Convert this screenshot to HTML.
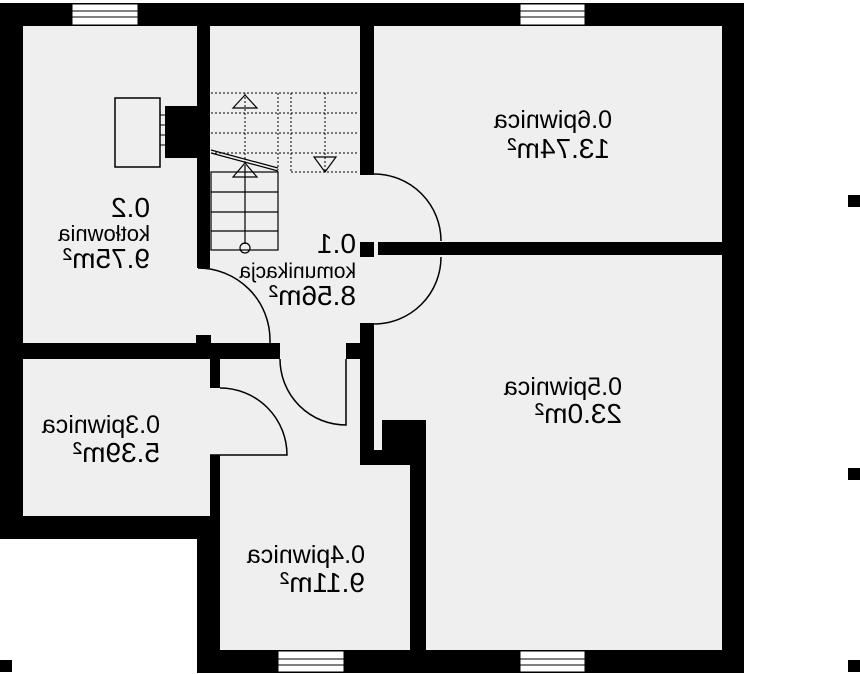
<!DOCTYPE html>
<html><head><meta charset="utf-8"><style>
html,body{margin:0;padding:0;background:#fff;}
svg{display:block;}
text{font-family:"Liberation Sans",sans-serif;fill:#000;}
</style></head><body>
<svg width="860" height="674" viewBox="0 0 860 674" xmlns="http://www.w3.org/2000/svg">
<polygon points="0,3 744,3 744,673 197,673 197,539 0,539" fill="#efefef"/>
<g fill="#000">
<rect x="0" y="3" width="744" height="23"/>
<rect x="0" y="3" width="23" height="536"/>
<rect x="722" y="3" width="22" height="670"/>
<rect x="197" y="650" width="547" height="23"/>
<rect x="0" y="516" width="210" height="23"/>
<rect x="197" y="516" width="23" height="157"/>
<rect x="210" y="455" width="10" height="61"/>
<rect x="0" y="343" width="280" height="16"/>
<rect x="196" y="335" width="15" height="24"/>
<rect x="210" y="343" width="10" height="45"/>
<rect x="197" y="26" width="13" height="242"/>
<rect x="360" y="26" width="14" height="149"/>
<rect x="360" y="242" width="14" height="15"/>
<rect x="360" y="323" width="14" height="142"/>
<rect x="378" y="242" width="344" height="13"/>
<rect x="346" y="343" width="14" height="16"/>
<rect x="360" y="450" width="50" height="15"/>
<rect x="382" y="420" width="44" height="45"/>
<rect x="410" y="420" width="16" height="230"/>
<rect x="165" y="106" width="32" height="52"/>
<rect x="848" y="195" width="12" height="12"/>
<rect x="848" y="468" width="12" height="12"/>
<rect x="848" y="660" width="12" height="12"/>
<rect x="0" y="660" width="12" height="12"/>
</g>
<g fill="#fff" stroke="#000" stroke-width="1">
<rect x="72" y="4" width="66" height="21"/>
<rect x="520" y="4" width="65" height="21"/>
<rect x="278" y="651" width="66" height="21"/>
<rect x="520" y="651" width="65" height="21"/>
</g>
<g stroke="#000" stroke-width="1">
<line x1="72" y1="11" x2="138" y2="11"/><line x1="72" y1="17" x2="138" y2="17"/>
<line x1="520" y1="11" x2="585" y2="11"/><line x1="520" y1="17" x2="585" y2="17"/>
<line x1="278" y1="659" x2="344" y2="659"/><line x1="278" y1="665" x2="344" y2="665"/>
<line x1="520" y1="659" x2="585" y2="659"/><line x1="520" y1="665" x2="585" y2="665"/>
</g>
<rect x="115" y="98" width="45" height="69" fill="none" stroke="#000" stroke-width="1.5"/>
<g stroke="#000" stroke-width="1"><line x1="160" y1="115" x2="165" y2="115"/><line x1="160" y1="125" x2="165" y2="125"/><line x1="160" y1="135" x2="165" y2="135"/><line x1="160" y1="145" x2="165" y2="145"/></g>
<g fill="none" stroke="#000" stroke-width="1.5">
<path d="M198,268 A72,72 0 0 1 270,340 L270,343"/>
<path d="M280,359 A66,66 0 0 0 346,425 L346,359"/>
<path d="M220,388 A67,67 0 0 1 287,455 L210,455"/>
<path d="M374,174 A67,67 0 0 1 441,241"/>
<path d="M441,257 A67,67 0 0 1 374,324"/>
</g>
<g stroke="#000" stroke-width="1" stroke-dasharray="2,2" fill="none">
<line x1="211" y1="93" x2="358" y2="93"/>
<line x1="211" y1="113" x2="358" y2="113"/>
<line x1="211" y1="133" x2="358" y2="133"/>
<line x1="211" y1="153" x2="358" y2="153"/>
<line x1="291" y1="172" x2="358" y2="172"/>
<line x1="278" y1="93" x2="278" y2="170"/>
<line x1="291" y1="93" x2="291" y2="172"/>
<line x1="245" y1="93" x2="245" y2="165"/>
<line x1="325" y1="93" x2="325" y2="172"/>
</g>
<g stroke="#000" stroke-width="1.2" fill="none">
<line x1="211" y1="150" x2="278" y2="168"/>
<line x1="211" y1="153" x2="278" y2="171"/>
<rect x="211" y="172" width="67" height="78"/>
<line x1="211" y1="192" x2="278" y2="192"/>
<line x1="211" y1="212" x2="278" y2="212"/>
<line x1="211" y1="231" x2="278" y2="231"/>
<line x1="245" y1="165" x2="245" y2="244"/>
<circle cx="245" cy="248" r="5"/>
<polygon points="245,95 233,108 257,108"/>
<polygon points="245,163 233,177 257,177"/>
<polygon points="325,172 314,157 336,157"/>
</g>
<g>
<text transform="translate(150,217) scale(-1,1)" font-size="28">0.2</text>
<text transform="translate(150,241) scale(-1,1)" font-size="22">kotłownia</text>
<text transform="translate(150,268) scale(-1,1)" font-size="28">9.75m²</text>
<text transform="translate(356,253) scale(-1,1)" font-size="28">0.1</text>
<text transform="translate(356,278) scale(-1,1)" font-size="21">komunikacja</text>
<text transform="translate(356,305) scale(-1,1)" font-size="28">8.56m²</text>
<text transform="translate(612,128) scale(-1,1)" font-size="25">0.6piwnica</text>
<text transform="translate(610,158) scale(-1,1)" font-size="28">13.74m²</text>
<text transform="translate(622,395) scale(-1,1)" font-size="25">0.5piwnica</text>
<text transform="translate(622,423) scale(-1,1)" font-size="28">23.0m²</text>
<text transform="translate(160,433) scale(-1,1)" font-size="25">0.3piwnica</text>
<text transform="translate(160,462) scale(-1,1)" font-size="28">5.39m²</text>
<text transform="translate(365,563) scale(-1,1)" font-size="25">0.4piwnica</text>
<text transform="translate(365,592) scale(-1,1)" font-size="28">9.11m²</text>
</g>
</svg>
</body></html>
